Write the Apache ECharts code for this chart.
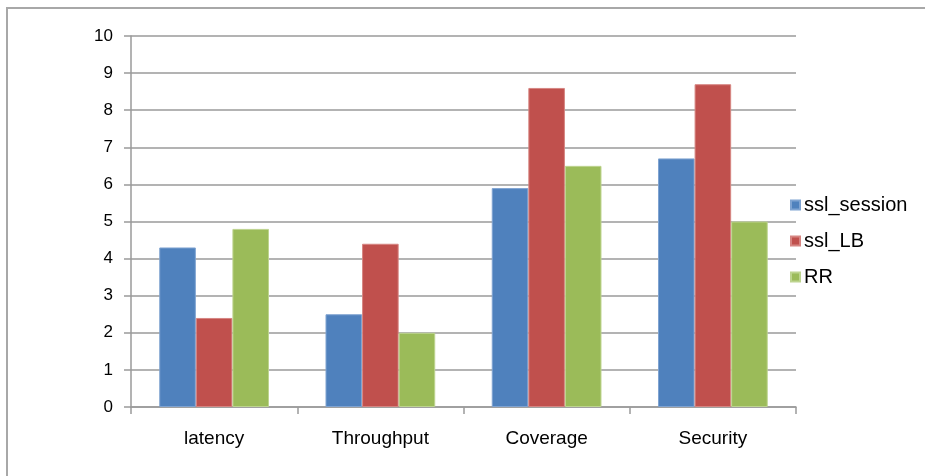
<!DOCTYPE html>
<html>
<head>
<meta charset="utf-8">
<script src="https://cdn.jsdelivr.net/npm/echarts@6/dist/echarts.min.js"></script>
<style>
  html, body { margin: 0; padding: 0; background: #ffffff; }
  #chart { width: 925px; height: 476px; }
</style>
</head>
<body>
<div id="chart"></div>
<script>
// Categories and the three series being compared
const categories = ['latency', 'Throughput', 'Coverage', 'Security'];
const sslSession = [4.3, 2.5, 5.9, 6.7];
const sslLB = [2.4, 4.4, 8.6, 8.7];
const rr = [4.8, 2.0, 6.5, 5.0];
const seriesNames = ['ssl_session', 'ssl_LB', 'RR'];
const seriesColors = ['#4F81BD', '#C0504D', '#9BBB59'];
const seriesBorders = ['#7fa3d1', '#d68582', '#bdd48f'];

const chart = echarts.init(document.getElementById('chart'), null, { renderer: 'canvas' });

const font = '"Liberation Sans", Arial, sans-serif';
const gridColor = '#9a9a9a';

function barSeries(i, data) {
  return {
    name: seriesNames[i],
    type: 'bar',
    data: data,
    barGap: '0%',
    barCategoryGap: '34%',
    itemStyle: { color: seriesColors[i], borderColor: seriesBorders[i], borderWidth: 1 },
    emphasis: { disabled: true }
  };
}

chart.setOption({
  animation: false,
  backgroundColor: '#ffffff',
  graphic: [{
    type: 'rect',
    shape: { x: 7, y: 8, width: 1000, height: 1000 },
    style: { fill: 'none', stroke: '#a8a8a8', lineWidth: 2 },
    silent: true
  }],
  grid: { left: 131, right: 129, top: 36, bottom: 69, containLabel: false },
  legend: {
    orient: 'vertical',
    left: 785,
    top: 190,
    itemWidth: 9,
    itemHeight: 9,
    itemGap: 16,
    icon: 'rect',
    textStyle: { fontFamily: font, fontSize: 20, color: '#000000', padding: [0, 0, 0, -1] },
    data: seriesNames
  },
  xAxis: {
    type: 'category',
    data: categories,
    axisLine: { lineStyle: { color: gridColor, width: 1.5 } },
    axisTick: { show: true, length: 7, alignWithLabel: false, lineStyle: { color: gridColor, width: 1.5 } },
    axisLabel: { fontFamily: font, fontSize: 19, color: '#000000', margin: 22 }
  },
  yAxis: {
    type: 'value',
    min: 0,
    max: 10,
    interval: 1,
    axisLine: { show: true, lineStyle: { color: gridColor, width: 1.5 } },
    axisTick: { show: true, length: 7, lineStyle: { color: gridColor, width: 1.5 } },
    splitLine: { show: true, lineStyle: { color: gridColor, width: 1.5 } },
    axisLabel: { fontFamily: font, fontSize: 17, color: '#000000', margin: 18 }
  },
  series: [
    barSeries(0, sslSession),
    barSeries(1, sslLB),
    barSeries(2, rr)
  ]
});
</script>
</body>
</html>
